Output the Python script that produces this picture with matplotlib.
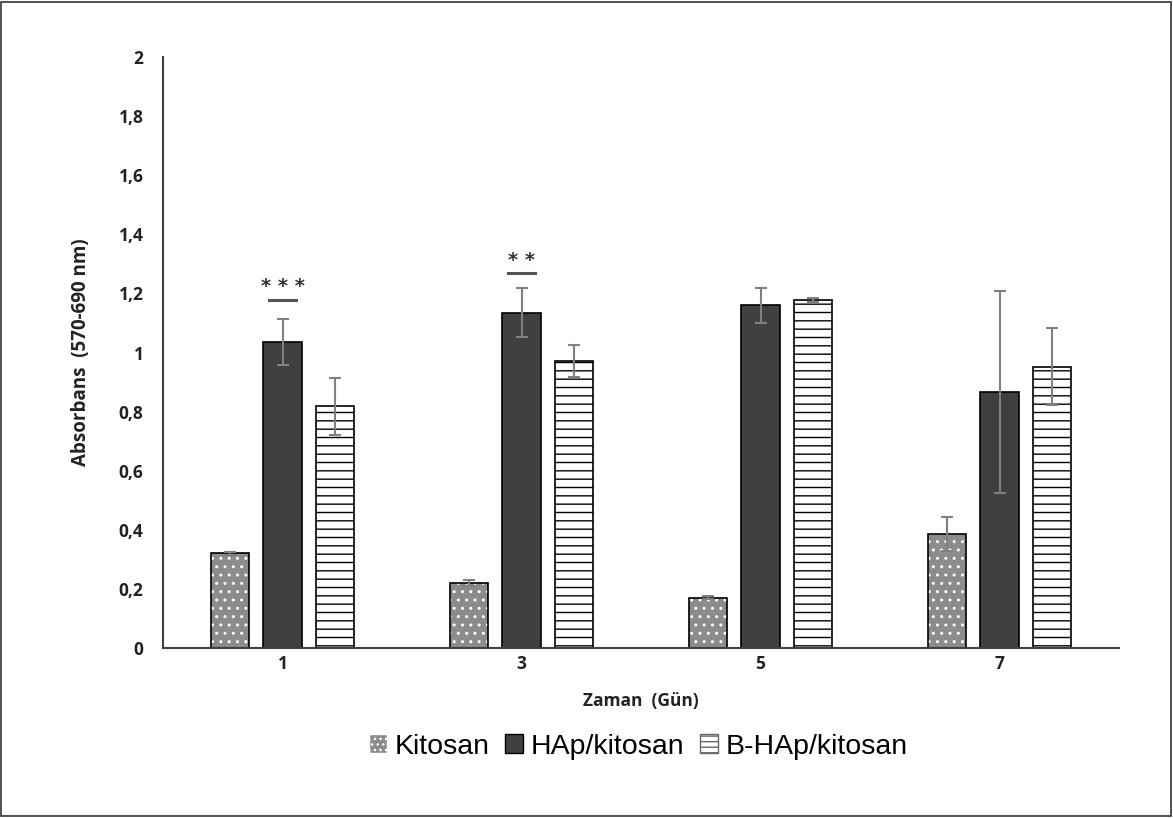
import matplotlib
matplotlib.use('Agg')
import matplotlib.pyplot as plt
import numpy as np
from matplotlib.patches import Patch, Rectangle

days = ['1', '3', '5', '7']
kitosan = [0.32, 0.22, 0.17, 0.385]
kitosan_err = [0.005, 0.01, 0.006, 0.057]
hap = [1.035, 1.135, 1.16, 0.866]
hap_err = [0.077, 0.082, 0.06, 0.342]
bhap = [0.818, 0.972, 1.178, 0.952]
bhap_err = [0.097, 0.055, 0.006, 0.13]
yticks = [0, 0.2, 0.4, 0.6, 0.8, 1, 1.2, 1.4, 1.6, 1.8, 2]
ytick_labels = ['0', '0,2', '0,4', '0,6', '0,8', '1', '1,2', '1,4', '1,6', '1,8', '2']
stars = ['* * *', '* *', '', '']
line_y = [1.178, 1.269, None, None]

plt.rcParams['hatch.linewidth'] = 1.0

fig = plt.figure(figsize=(11.73, 8.18), dpi=100)
fig.patches.append(Rectangle((0.001, 0.002), 0.997, 0.996, transform=fig.transFigure,
                             fill=False, edgecolor='#333333', linewidth=1.2))
ax = fig.add_axes([0.139, 0.208, 0.815, 0.722])

x = np.arange(len(days))
w = 0.16
off = 0.22
ekw = dict(ecolor='#808080', elinewidth=1.5, capsize=4.5, capthick=1.5)

# Kitosan: grey with white dots
ax.bar(x - off, kitosan, w, color='#8c8c8c', edgecolor='white', hatch='..', linewidth=0)
ax.bar(x - off, kitosan, w, color='none', edgecolor='black', linewidth=1.2,
       yerr=kitosan_err, error_kw=ekw)
ax.bar(x, hap, w, color='#404040', edgecolor='black', linewidth=1.2,
       yerr=hap_err, error_kw=ekw)
ax.bar(x + off, bhap, w, color='white', edgecolor='black', hatch='--', linewidth=1.2,
       yerr=bhap_err, error_kw=ekw)

# significance marks
for i, s in enumerate(stars):
    if s:
        ax.plot([x[i] - 0.055, x[i] + 0.055], [line_y[i], line_y[i]], color='#555555', lw=2.2)
        ax.text(x[i], line_y[i] + 0.012, s, ha='center', va='bottom',
                fontsize=14, fontweight='bold', color='#333333', family='DejaVu Sans')

ax.set_xlim(-0.5, 3.5)
ax.set_ylim(0, 2)
ax.set_xticks(x)
ax.set_xticklabels(days)
ax.set_yticks(yticks)
ax.set_yticklabels(ytick_labels)
for s in ['top', 'right']:
    ax.spines[s].set_visible(False)
ax.spines['left'].set_color('#404040')
ax.spines['bottom'].set_color('#404040')
ax.spines['left'].set_linewidth(1.5)
ax.spines['bottom'].set_linewidth(1.5)
ax.tick_params(length=0, labelsize=12.5, labelcolor='#222222')
ax.tick_params(axis='y', pad=14)
ax.tick_params(axis='x', pad=5)
for lab in ax.get_xticklabels() + ax.get_yticklabels():
    lab.set_fontweight('bold')
    lab.set_family('Open Sans')

ax.set_ylabel('Absorbans  (570-690 nm)', fontsize=13.5, fontweight='bold',
              family='Open Sans', color='#222222', labelpad=20)
ax.set_xlabel('Zaman  (Gün)', fontsize=12.5, fontweight='bold',
              family='Open Sans', color='#222222', labelpad=14)

handles = [Patch(facecolor='#8c8c8c', edgecolor='white', hatch='...'),
           Patch(facecolor='#404040', edgecolor='black'),
           Patch(facecolor='white', edgecolor='#666666', hatch='---')]
leg = fig.legend(handles, ['Kitosan', 'HAp/kitosan', 'B-HAp/kitosan'], ncol=3,
                 loc='center', bbox_to_anchor=(0.544, 0.087), frameon=False,
                 prop={'family': 'Liberation Sans', 'size': 20.5},
                 handlelength=0.65, handleheight=0.65, handletextpad=0.25,
                 columnspacing=0.55)

fig.savefig('out.png', dpi=100)
